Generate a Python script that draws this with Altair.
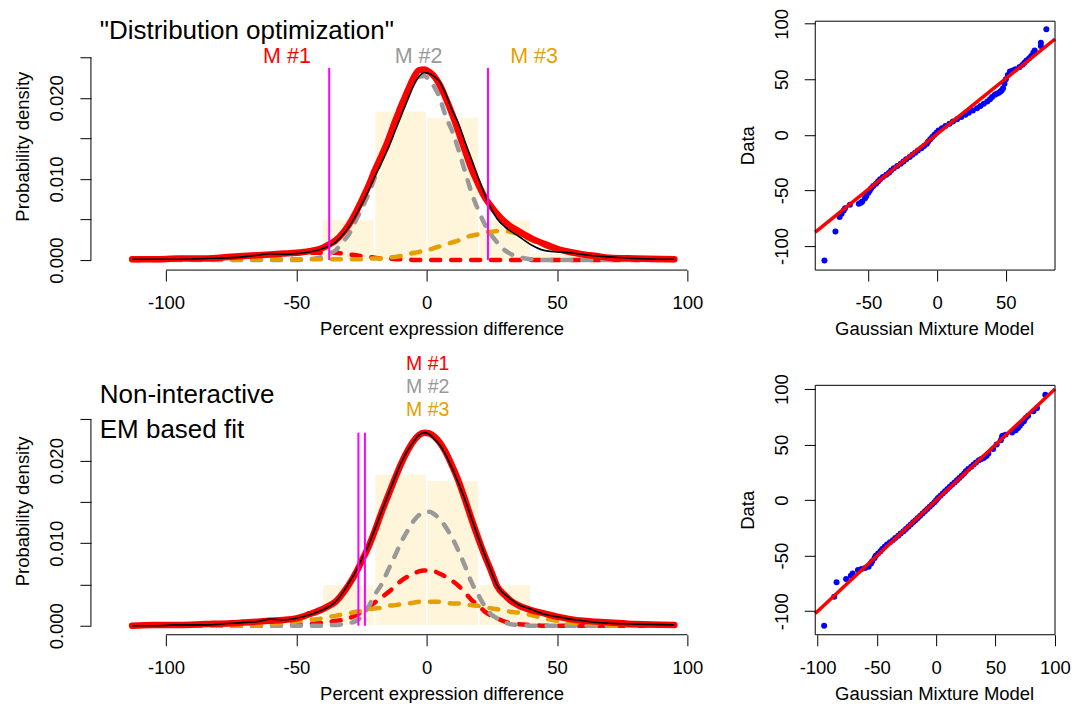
import altair as alt
import pandas as pd

FONT = "Liberation Sans"

# ---------------- density panels: common x grid of the curves ----------------
curve_x = [-113, -105, -95, -85, -75, -65, -60, -55, -50, -45, -40, -37, -35, -32, -30,
           -27, -25, -22, -20, -17, -15, -12, -10, -7, -5, -3, -1, 1, 3, 5, 7, 10, 12,
           15, 17, 20, 22, 25, 27, 30, 32, 35, 40, 45, 50, 55, 60, 65, 70, 80, 95]

# top panel ("Distribution optimization")
p1_total = [0.0001, 0.0001, 0.0002, 0.0002, 0.0004, 0.0006, 0.0007, 0.0008, 0.0009, 0.0011, 0.0015,
            0.0020, 0.0024, 0.0034, 0.0043, 0.0060, 0.0073, 0.0094, 0.0110, 0.0131, 0.0146, 0.0172,
            0.0188, 0.0211, 0.0225, 0.0234, 0.0235, 0.0232, 0.0226, 0.0216, 0.0202, 0.0178, 0.0160,
            0.0132, 0.0114, 0.0092, 0.0079, 0.0065, 0.0057, 0.0047, 0.0042, 0.0036, 0.0027, 0.0020,
            0.0014, 0.0010, 0.0007, 0.0005, 0.0003, 0.0002, 0.0001]
p1_kde = [0.0001, 0.0001, 0.0001, 0.0002, 0.0003, 0.0006, 0.0008, 0.0007, 0.0008, 0.0010, 0.0014,
          0.0018, 0.0022, 0.0032, 0.0040, 0.0056, 0.0068, 0.0088, 0.0102, 0.0122, 0.0136, 0.0160,
          0.0176, 0.0200, 0.0215, 0.0226, 0.0231, 0.0230, 0.0226, 0.0220, 0.0207, 0.0183, 0.0170,
          0.0143, 0.0126, 0.0100, 0.0083, 0.0062, 0.0051, 0.0041, 0.0036, 0.0030, 0.0019, 0.0012,
          0.0010, 0.0009, 0.0007, 0.0005, 0.0004, 0.0002, 0.0001]
p1_m1 = [0.0001, 0.0001, 0.0001, 0.0002, 0.0003, 0.0005, 0.0006, 0.0007, 0.0008, 0.0009, 0.0009,
         0.0009, 0.0009, 0.0008, 0.0007, 0.0006, 0.0005, 0.0004, 0.0003, 0.0002, 0.0002, 0.0001,
         0.0001, 0.0001, 0.0, 0.0, 0.0, 0.0, 0.0, 0.0, 0.0, 0.0, 0.0, 0.0, 0.0, 0.0, 0.0, 0.0,
         0.0, 0.0, 0.0, 0.0, 0.0, 0.0, 0.0, 0.0, 0.0, 0.0, 0.0, 0.0, 0.0]
p1_m2 = [0.0, 0.0, 0.0, 0.0, 0.0, 0.0, 0.0, 0.0, 0.0, 0.0001, 0.0004,
         0.0008, 0.0012, 0.0023, 0.0031, 0.0050, 0.0063, 0.0084, 0.0101, 0.0129, 0.0148, 0.0176,
         0.0192, 0.0212, 0.0221, 0.0226, 0.0227, 0.0222, 0.0213, 0.0200, 0.0180, 0.0157, 0.0138,
         0.0106, 0.0085, 0.0060, 0.0046, 0.0030, 0.0022, 0.0012, 0.0008, 0.0004, 0.0001, 0.0,
         0.0, 0.0, 0.0, 0.0, 0.0, 0.0, 0.0]
p1_m3 = [0.0, 0.0, 0.0001, 0.0001, 0.0001, 0.0001, 0.0001, 0.0001, 0.0001, 0.0001, 0.0001,
         0.0001, 0.0001, 0.0001, 0.0001, 0.0001, 0.0001, 0.0002, 0.0002, 0.0002, 0.0003, 0.0004,
         0.0005, 0.0007, 0.0009, 0.0010, 0.0012, 0.0013, 0.0015, 0.0017, 0.0019, 0.0022, 0.0024,
         0.0028, 0.0030, 0.0032, 0.0034, 0.0035, 0.0036, 0.0036, 0.0035, 0.0032, 0.0025, 0.0018,
         0.0013, 0.0009, 0.0006, 0.0004, 0.0003, 0.0001, 0.0]

# bottom panel ("Non-interactive EM based fit")
p2_total = [0.0, 0.0001, 0.0001, 0.0002, 0.0003, 0.0005, 0.0006, 0.0007, 0.0009, 0.0014, 0.0020,
            0.0025, 0.0029, 0.0040, 0.0049, 0.0065, 0.0078, 0.0098, 0.0114, 0.0140, 0.0156, 0.0180,
            0.0195, 0.0214, 0.0224, 0.0231, 0.0234, 0.0233, 0.0229, 0.0222, 0.0212, 0.0192, 0.0177,
            0.0150, 0.0131, 0.0104, 0.0087, 0.0064, 0.0048, 0.0037, 0.0031, 0.0025, 0.0019, 0.0015,
            0.0011, 0.0008, 0.0006, 0.0005, 0.0004, 0.0002, 0.0001]
p2_kde = [0.0, 0.0, 0.0001, 0.0001, 0.0003, 0.0005, 0.0008, 0.0007, 0.0009, 0.0013, 0.0019,
          0.0024, 0.0029, 0.0041, 0.0051, 0.0067, 0.0080, 0.0100, 0.0116, 0.0141, 0.0157, 0.0181,
          0.0196, 0.0214, 0.0223, 0.0231, 0.0234, 0.0232, 0.0226, 0.0219, 0.0209, 0.0189, 0.0174,
          0.0150, 0.0132, 0.0105, 0.0088, 0.0064, 0.0049, 0.0038, 0.0033, 0.0026, 0.0020, 0.0014,
          0.0011, 0.0008, 0.0006, 0.0004, 0.0003, 0.0002, 0.0001]
p2_m1 = [0.0, 0.0, 0.0, 0.0, 0.0, 0.0, 0.0, 0.0001, 0.0001, 0.0002, 0.0004,
         0.0005, 0.0006, 0.0007, 0.0009, 0.0013, 0.0017, 0.0023, 0.0028, 0.0035, 0.0040, 0.0048,
         0.0054, 0.0060, 0.0063, 0.0066, 0.0067, 0.0067, 0.0066, 0.0063, 0.0060, 0.0054, 0.0049,
         0.0039, 0.0032, 0.0024, 0.0018, 0.0012, 0.0009, 0.0005, 0.0003, 0.0002, 0.0001, 0.0,
         0.0, 0.0, 0.0, 0.0, 0.0, 0.0, 0.0]
p2_m2 = [0.0, 0.0, 0.0, 0.0, 0.0, 0.0, 0.0, 0.0, 0.0, 0.0, 0.0,
         0.0001, 0.0001, 0.0002, 0.0003, 0.0006, 0.0011, 0.0025, 0.0037, 0.0052, 0.0066, 0.0086,
         0.0100, 0.0117, 0.0127, 0.0134, 0.0138, 0.0138, 0.0135, 0.0129, 0.0121, 0.0105, 0.0092,
         0.0070, 0.0054, 0.0036, 0.0025, 0.0013, 0.0009, 0.0004, 0.0002, 0.0001, 0.0, 0.0,
         0.0, 0.0, 0.0, 0.0, 0.0, 0.0, 0.0]
p2_m3 = [0.0, 0.0, 0.0, 0.0, 0.0001, 0.0001, 0.0002, 0.0003, 0.0005, 0.0007, 0.0009,
         0.0011, 0.0012, 0.0014, 0.0015, 0.0017, 0.0018, 0.0020, 0.0021, 0.0022, 0.0024, 0.0025,
         0.0026, 0.0027, 0.0028, 0.0029, 0.0029, 0.0029, 0.0029, 0.0029, 0.0028, 0.0027, 0.0027,
         0.0026, 0.0025, 0.0024, 0.0023, 0.0021, 0.0020, 0.0019, 0.0017, 0.0016, 0.0013, 0.0009,
         0.0006, 0.0004, 0.0003, 0.0002, 0.0001, 0.0, 0.0]

# histogram of the data (same in both panels)
hist_left = [-40, -20, 0, 20, 40]
hist_right = [-20, 0, 20, 40, 60]
hist_density = [0.0050, 0.0184, 0.0176, 0.0050, 0.0009]

# cut-off (magenta) lines
p1_cutoffs = [-37.4, 23.5]
p1_cut_top = 0.0237
p2_cutoffs = [-26.2, -23.7]
p2_cut_top = 0.0234

# component labels
comp_labels = ["M #1", "M #2", "M #3"]
comp_colors = ["#FF0000", "#999999", "#E69F00"]
p1_label_x = [-53.6, -3.1, 41.2]
p1_label_y = [0.0250, 0.0250, 0.0250]
p2_label_x = [0.4, 0.4, 0.4]
p2_label_y = [0.0317, 0.0289, 0.0261]

# panel titles (inside the plots)
title_x = -125.4
p1_title_lines = ['"Distribution optimization"']
p1_title_y = [0.0283]
p2_title_lines = ["Non-interactive", "EM based fit"]
p2_title_y = [0.0280, 0.0237]

density_ticks_x = [-100, -50, 0, 50, 100]
density_ticks_y = [0, 0.005, 0.01, 0.015, 0.02, 0.025]

# ---------------- QQ panels ----------------
qq_data = [-113, -87, -74, -71, -68, -66, -63, -62, -61, -60,
           -57, -55, -52, -50, -48, -46, -44, -42, -40, -38,
           -36, -34, -32, -30, -28, -26, -24, -22, -20, -18,
           -16, -14, -12, -10, -8, -6, -4, -2, 0, 2,
           4, 6, 8, 10, 12, 14, 16, 18, 20, 22,
           24, 26, 28, 30, 32, 34, 36, 37, 38, 39,
           40, 42, 46, 50, 54, 57, 58, 59, 61, 63,
           65, 67, 69, 71, 74, 76, 80, 83, 95]
qq_theo_1 = [-82, -74, -71, -69.5, -68, -67, -63.5, -57, -55.5, -54.5,
             -52.5, -51.5, -50, -49, -48, -46.5, -44.5, -43, -41.5, -39.5,
             -37, -35, -33.5, -31.5, -29, -26.5, -24.5, -22.5, -20, -18,
             -16, -14, -11.5, -9.5, -7.5, -6.5, -5, -3.5, -2, -0.5,
             1, 3.5, 6, 9, 11.5, 14.5, 17.5, 20.5, 23, 26,
             29, 31.5, 34, 36.5, 38.5, 40, 42, 43.5, 45, 46,
             47, 48, 49, 50, 51.5, 53, 55, 57, 60, 62,
             63.5, 65, 67, 68.5, 70, 71, 75.5, 75.5, 79.5]
qq_theo_2 = [-94.5, -86, -84, -76, -72, -70.5, -66, -63, -60, -57,
             -55, -54, -52, -51, -49, -47, -45.5, -43.5, -41.5, -39,
             -36.5, -34.5, -32, -30, -27.5, -25.5, -23.5, -21.5, -19.5, -17.5,
             -15.5, -13.5, -11.5, -9.5, -7.5, -5.5, -3.5, -1.5, 0, 1.5,
             3.5, 5.5, 7.5, 9.5, 11.5, 13.5, 15.5, 17.5, 19.5, 21.5,
             23.5, 25, 27, 29.5, 31.5, 33.5, 36, 38, 40, 41,
             42.5, 44, 48, 51, 54.5, 55.5, 56, 58.5, 64, 67,
             69, 70.5, 72, 74, 75.5, 77.5, 82, 85, 92]
qq_line_1_x = [-88.7, 85.8]
qq_line_1_y = [-87.5, 86.3]
qq_line_2_x = [-102.0, 100.2]
qq_line_2_y = [-102.0, 100.0]
qq_ticks_x_1 = [-50, 0, 50]
qq_ticks_x_2 = [-100, -50, 0, 50, 100]
qq_ticks_y = [-100, -50, 0, 50, 100]

# ---------------- helpers ----------------
FS = 18.5
NEG_LABEL = "datum.value < 0 ? '-' + (-datum.value) : '' + datum.value"
DENS_LABEL = "abs(datum.value*100 - round(datum.value*100)) < 0.001 ? format(datum.value, '.3f') : ''"


def x_axis(values, title, title_x):
    return alt.Axis(values=values, domain=False, grid=False, ticks=True, tickSize=11, tickWidth=1,
                    tickColor="black", labelFontSize=FS, labelColor="black", labelPadding=27.7,
                    labelBaseline="alphabetic", labelAlign="center", labelFlush=False,
                    labelOverlap=False, labelExpr=NEG_LABEL, title=title, titleFontSize=FS,
                    titleFontWeight="normal", titleColor="black", titleX=title_x, titleY=64.5,
                    titleBaseline="alphabetic", titleAlign="center")


def y_axis(values, title, title_y, expr):
    return alt.Axis(values=values, domain=False, grid=False, ticks=True, tickSize=11, tickWidth=1,
                    tickColor="black", labelFontSize=FS, labelColor="black", labelPadding=17,
                    labelAngle=-90, labelAlign="center", labelBaseline="alphabetic",
                    labelFlush=False, labelOverlap=False, labelExpr=expr, title=title,
                    titleFontSize=FS, titleFontWeight="normal", titleColor="black", titleX=-62,
                    titleY=title_y, titleAngle=-90, titleBaseline="alphabetic", titleAlign="center")


def density_panel(total, kde, comps, cutoffs, cut_top, lab_x, lab_y, lab_fs, t_lines, t_y, ydom,
                  height, ytitle_y):
    W = 620
    xs = alt.Scale(domain=[-128.8, 108.8], nice=False, zero=False)
    ys = alt.Scale(domain=ydom, nice=False, zero=False)
    xa = x_axis(density_ticks_x, "Percent expression difference", 351)
    ya = y_axis(density_ticks_y, "Probability density", ytitle_y, DENS_LABEL)

    def X(f):
        return alt.X(f, type="quantitative", scale=xs, axis=xa)

    def Y(f):
        return alt.Y(f, type="quantitative", scale=ys, axis=ya)

    hist = pd.DataFrame({"l": hist_left, "r": hist_right, "d": hist_density, "b": [0.0] * len(hist_left)})
    bars = alt.Chart(hist).mark_rect(color="#FFF5DA", stroke="white", strokeWidth=1.5).encode(
        x=X("l"), x2="r", y=Y("b"), y2="d")

    layers = [bars]
    for vals, col in zip(comps, comp_colors):
        df = pd.DataFrame({"x": curve_x, "y": vals})
        layers.append(alt.Chart(df).mark_line(color=col, strokeWidth=4.5, strokeDash=[9, 11],
                                              strokeCap="round", interpolate="monotone").encode(
            x=X("x"), y=Y("y")))
    df_t = pd.DataFrame({"x": curve_x, "y": total})
    layers.append(alt.Chart(df_t).mark_line(color="#FF0000", strokeWidth=6.5, strokeCap="round",
                                            strokeJoin="round", interpolate="monotone").encode(
        x=X("x"), y=Y("y")))
    df_k = pd.DataFrame({"x": curve_x, "y": kde})
    layers.append(alt.Chart(df_k).mark_line(color="black", strokeWidth=1.6, strokeJoin="round",
                                            interpolate="monotone").encode(x=X("x"), y=Y("y")))
    df_c = pd.DataFrame({"x": cutoffs, "b": [0.0] * len(cutoffs), "t": [cut_top] * len(cutoffs)})
    layers.append(alt.Chart(df_c).mark_rule(color="#FF00FF", strokeWidth=2).encode(
        x=X("x"), y=Y("b"), y2="t"))
    df_l = pd.DataFrame({"x": lab_x, "y": lab_y, "t": comp_labels, "c": comp_colors})
    layers.append(alt.Chart(df_l).mark_text(fontSize=lab_fs, align="center", baseline="middle").encode(
        x=X("x"), y=Y("y"), text="t:N", color=alt.Color("c:N", scale=None)))
    df_title = pd.DataFrame({"x": [title_x] * len(t_lines), "y": t_y, "t": t_lines})
    layers.append(alt.Chart(df_title).mark_text(fontSize=26, align="left", baseline="middle",
                                                color="black").encode(
        x=X("x"), y=Y("y"), text="t:N"))
    df_ax = pd.DataFrame({"x": [density_ticks_x[0]], "x2": [density_ticks_x[-1]]})
    layers.append(alt.Chart(df_ax).mark_rule(color="black", strokeWidth=1).encode(
        x=X("x"), x2="x2", y=alt.value(height)))
    df_ay = pd.DataFrame({"y": [density_ticks_y[0]], "y2": [density_ticks_y[-1]]})
    layers.append(alt.Chart(df_ay).mark_rule(color="black", strokeWidth=1).encode(
        y=Y("y"), y2="y2", x=alt.value(0)))
    return alt.layer(*layers).properties(width=W, height=height)


def qq_panel(theo, lx, ly, xdom, xticks, ydom, frame_top, height, ytitle_y):
    W = 240
    xs = alt.Scale(domain=xdom, nice=False, zero=False)
    ys = alt.Scale(domain=ydom, nice=False, zero=False)
    xa = x_axis(xticks, "Gaussian Mixture Model", 119)
    ya = y_axis(qq_ticks_y, "Data", ytitle_y, NEG_LABEL)

    def X(f):
        return alt.X(f, type="quantitative", scale=xs, axis=xa)

    def Y(f):
        return alt.Y(f, type="quantitative", scale=ys, axis=ya)

    df_p = pd.DataFrame({"x": theo, "y": qq_data})
    pts = alt.Chart(df_p).mark_circle(size=36, color="#0000FF", opacity=1).encode(x=X("x"), y=Y("y"))
    df_l = pd.DataFrame({"x": lx, "y": ly})
    line = alt.Chart(df_l).mark_line(color="#FF0000", strokeWidth=3.5).encode(x=X("x"), y=Y("y"))
    df_f = pd.DataFrame({"y": [frame_top]})
    top = alt.Chart(df_f).mark_rule(color="black", strokeWidth=1).encode(
        y=Y("y"), x=alt.value(0), x2=alt.value(W))
    left = alt.Chart(df_f).mark_rule(color="black", strokeWidth=1).encode(
        y=Y("y"), y2=alt.value(height), x=alt.value(0))
    right = alt.Chart(df_f).mark_rule(color="black", strokeWidth=1).encode(
        y=Y("y"), y2=alt.value(height), x=alt.value(W))
    bottom = alt.Chart(df_f).mark_rule(color="black", strokeWidth=1).encode(
        x=alt.value(0), x2=alt.value(W), y=alt.value(height))
    return alt.layer(pts, line, top, left, right, bottom).properties(width=W, height=height)


H1 = 260
H2 = 282
tl = density_panel(p1_total, p1_kde, [p1_m1, p1_m2, p1_m3], p1_cutoffs, p1_cut_top,
                   p1_label_x, p1_label_y, 21.5, p1_title_lines, p1_title_y,
                   [-0.00123, 0.03079], H1, 136)
bl = density_panel(p2_total, p2_kde, [p2_m1, p2_m2, p2_m3], p2_cutoffs, p2_cut_top,
                   p2_label_x, p2_label_y, 19.5, p2_title_lines, p2_title_y,
                   [-0.00109, 0.03305], H2, 158)
tr = qq_panel(qq_theo_1, qq_line_1_x, qq_line_1_y, [-88.7, 85.8], qq_ticks_x_1,
              [-121.7, 112.1], 102.3, H1, 135)
br = qq_panel(qq_theo_2, qq_line_2_x, qq_line_2_y, [-102.0, 100.2], qq_ticks_x_2,
              [-121.2, 132.5], 103.4, H2, 157)

row1 = alt.hconcat(tl, tr, spacing=28)
row2 = alt.hconcat(bl, br, spacing=28)
chart = alt.vconcat(row1, row2, spacing=15).properties(
    padding={"left": 5, "top": 0, "right": 5, "bottom": 0}
).configure(font=FONT).configure_view(strokeWidth=0).configure_axis(labelFont=FONT, titleFont=FONT)

chart.save("out.html", embed_options={"renderer": "svg", "actions": False})
